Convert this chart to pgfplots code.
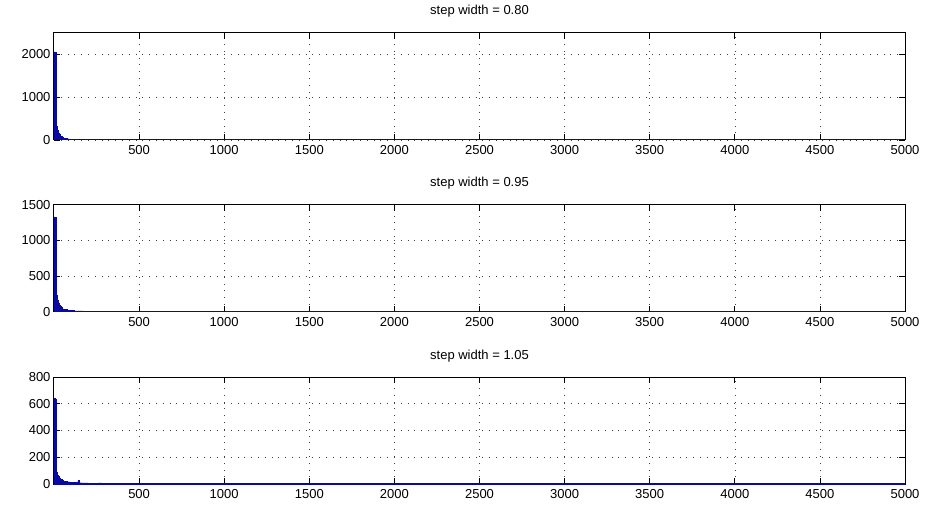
\documentclass[border=0pt]{standalone}
\usepackage{pgfplots}
\pgfplotsset{compat=1.18}
\usepackage{fontspec}
\setmainfont{Liberation Sans}
\definecolor{barfill}{RGB}{0,0,140}
\definecolor{baredge}{RGB}{10,10,160}
\pgfplotsset{
  mystyle/.style={
    scale only axis, width=851pt, height=107pt,
    xmin=0, xmax=5000, ymin=0,
    xtick={500,1000,...,5000},
    tick align=inside, major tick length=6pt,
    tick style={black, line width=0.8pt},
    axis line style={black, line width=1pt},
    grid=major,
    major grid style={black!75, line width=0.6pt, dash pattern=on 0.8pt off 6pt},
    /pgf/number format/assume math mode=true,
    /pgf/number format/1000 sep={},
    ticklabel style={font=\fontsize{13}{15}\selectfont},
    title style={font=\fontsize{13}{15}\selectfont, at={(0.5,1)}, anchor=base, yshift=12pt},
    xticklabel style={yshift=-2pt},
    anchor=south west,
  },
  bars/.style={ybar interval, fill=barfill, draw=baredge, line width=0.3pt},
  baseline/.style={baredge, line width=1.6pt},
}
\begin{document}
\begin{tikzpicture}
\path (-54pt,0pt) rectangle (871pt,506pt);
% panel 1
\begin{axis}[mystyle, at={(0pt,366pt)}, ymax=2500, ytick={0,1000,2000}, title={step width = 0.80}]
\addplot[bars] table {
x y
0 2060
5 2050
10 360
15 330
20 230
25 170
30 130
35 100
40 85
45 70
50 60
55 52
60 45
65 40
70 36
75 32
80 29
85 26
90 24
95 22
100 20
110 18
120 16
130 14
140 13
150 12
170 11
190 10
210 9
240 8
270 7
300 6
350 5
400 4
450 3
500 2
600 0
};
\addplot[baseline] coordinates {(0,0) (5000,0)};
\end{axis}
% panel 2
\begin{axis}[mystyle, at={(0pt,194.3pt)}, ymax=1500, ytick={0,500,1000,1500}, title={step width = 0.95}]
\addplot[bars] table {
x y
0 1330
5 1320
10 250
15 235
20 160
25 125
30 95
35 78
40 60
45 48
50 42
55 36
60 30
65 28
70 32
75 26
80 22
85 20
90 18
95 16
100 17
110 15
120 13
130 12
140 11
150 10
170 9
190 8
210 7
240 6
270 5
300 4
350 3
400 2
450 0
};
\addplot[baseline] coordinates {(0,0) (5000,0)};
\end{axis}
% panel 3
\begin{axis}[mystyle, at={(0pt,22pt)}, ymax=800, ytick={0,200,...,800}, title={step width = 1.05}]
\addplot[bars] table {
x y
0 640
5 635
10 98
15 90
20 66
25 55
30 45
35 40
40 34
45 30
50 27
55 25
60 22
65 21
70 20
75 18
80 17
85 16
90 15
95 14
100 13
110 12
120 11
130 12
140 28
150 10
160 9
180 8
200 7
230 6
260 9
280 5
320 5
360 4
400 4
450 3
500 5
520 3
560 2
600 0
};
\addplot[baseline] coordinates {(0,0) (5000,0)};
\end{axis}
\end{tikzpicture}
\end{document}
